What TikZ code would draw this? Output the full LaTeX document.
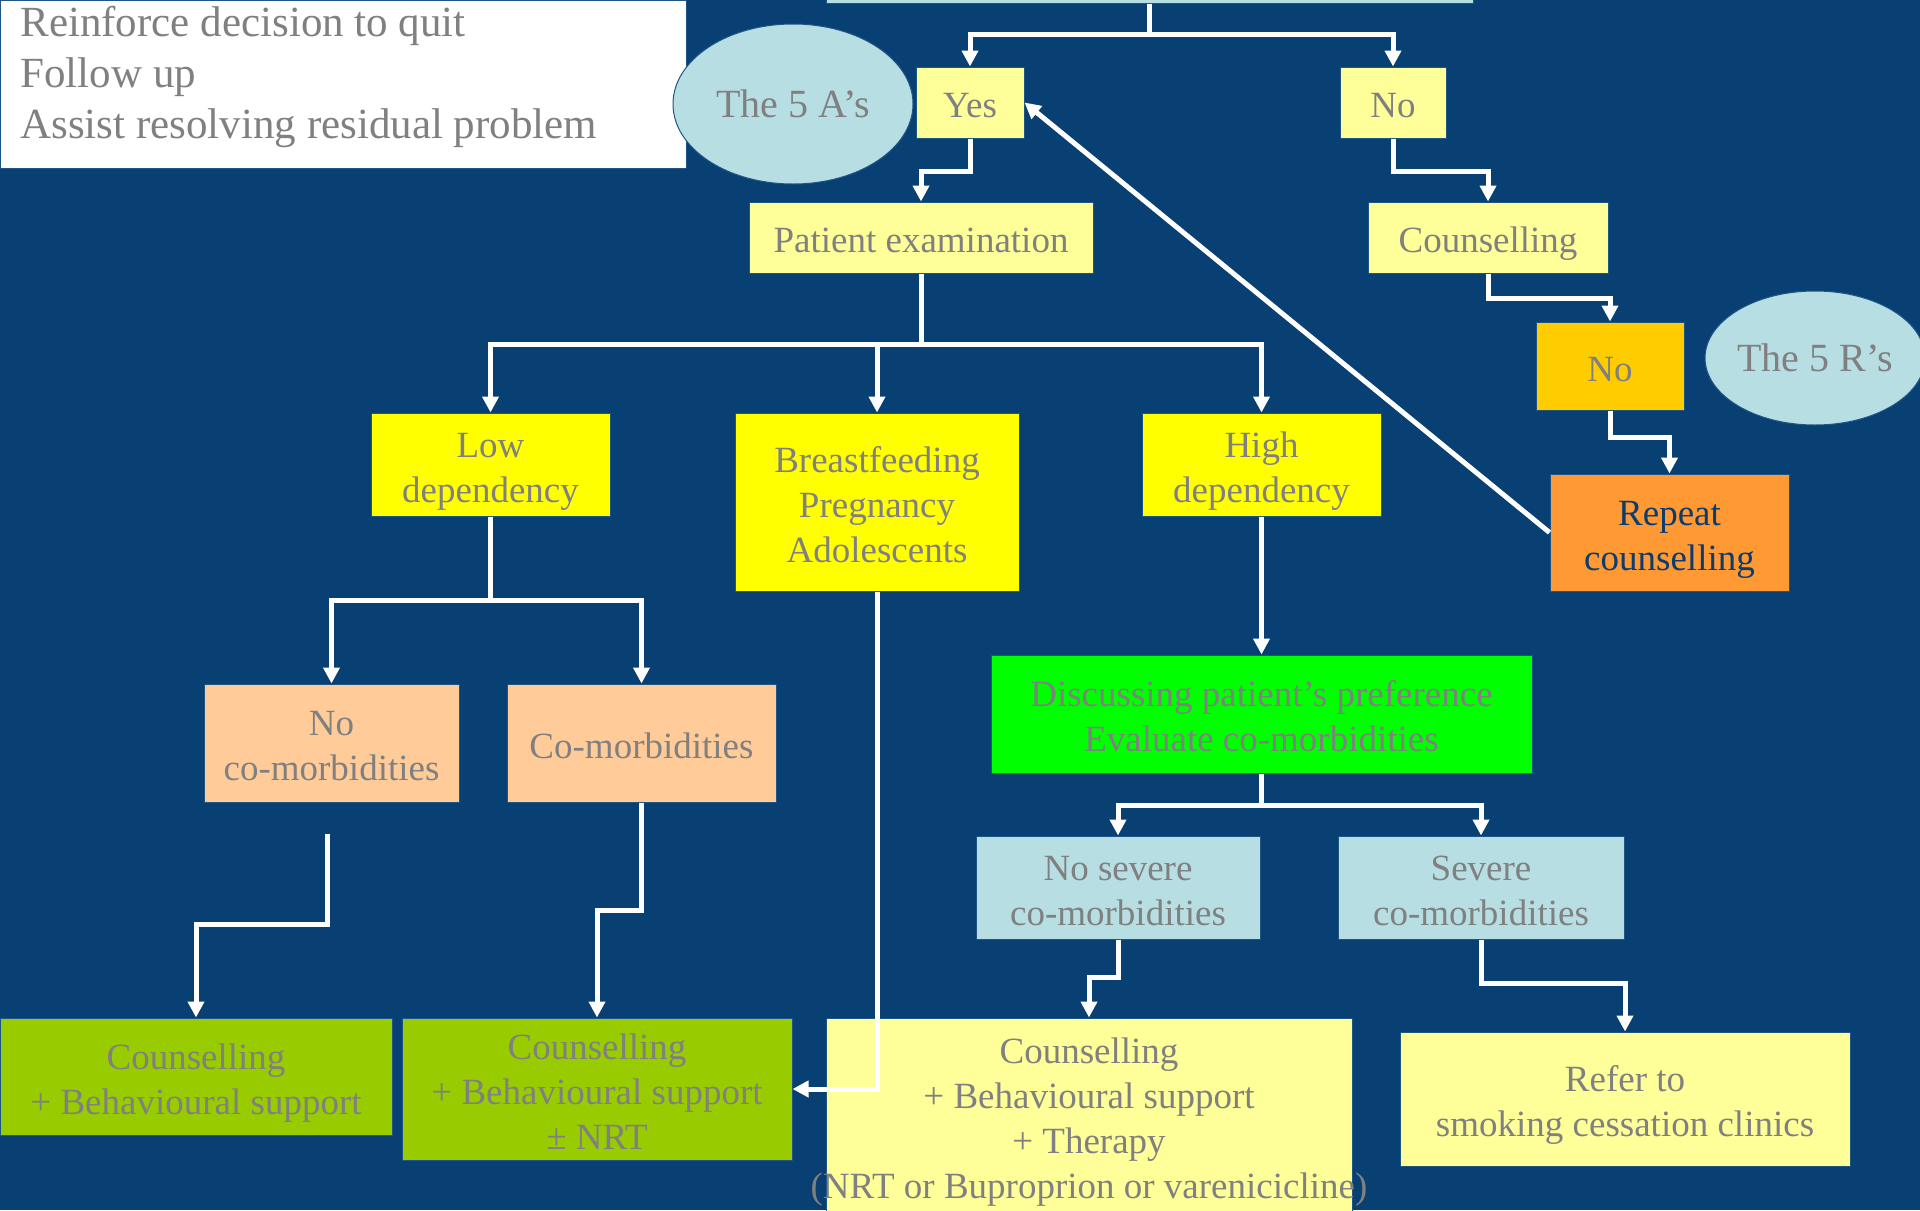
\documentclass[tikz,border=0pt]{standalone}
\usepackage{fontspec}
\setmainfont{Liberation Serif}
\usetikzlibrary{positioning}
\usetikzlibrary{calc}
\usetikzlibrary{arrows.meta}
\usetikzlibrary{shapes.geometric}

\definecolor{bgblue}{RGB}{8,64,116}
\definecolor{edgeblue}{RGB}{30,85,135}
\definecolor{paleyellow}{RGB}{255,255,153}
\definecolor{brightyellow}{RGB}{255,255,0}
\definecolor{peach}{RGB}{255,204,153}
\definecolor{gold}{RGB}{255,204,0}
\definecolor{orangebox}{RGB}{255,153,51}
\definecolor{brightgreen}{RGB}{0,255,0}
\definecolor{paleblue}{RGB}{183,222,226}
\definecolor{olive}{RGB}{153,204,0}
\definecolor{textgray}{RGB}{128,128,128}
\definecolor{darktext}{RGB}{12,60,110}

\newcommand{\linetop}{\rule{0pt}{20pt}}
\newcommand{\linebot}{\rule[-5pt]{0pt}{5pt}}

\begin{document}
\begin{tikzpicture}[x=0.5pt,y=-0.5pt,
  box/.style={draw=edgeblue,line width=0.5pt,inner sep=0pt,align=center,text=textgray,font=\fontsize{18.5}{22.5}\selectfont},
  bubble/.style={box,ellipse,fill=paleblue,font=\fontsize{20}{24}\selectfont},
  link/.style={draw=white,line width=2.5pt},
  >={Triangle[length=8pt,width=8pt]}]

	\useasboundingbox (0,0) rectangle (1920,1210);
	\fill[bgblue] (0,0) rectangle (1920,1210);

	\node[box,fill=paleblue,minimum width=323.5pt,minimum height=33pt] (question) at (1149.5,-30) {};
	\node[box,fill=white,anchor=north west,minimum width=343pt,minimum height=84pt] (notes) at (0,0) {};
	\node[text=textgray,anchor=west,align=left,inner sep=0pt,font=\fontsize{21.5}{25.5}\selectfont] (notetext) at (20,77) {Reinforce decision to quit\\Follow up\\Assist resolving residual problem};
	\node[bubble,minimum width=120pt,minimum height=80pt] (fiveA) at (793,104) {The 5 A's};
	\node[box,fill=paleyellow,minimum width=54pt,minimum height=35.5pt] (yes) at (970,102.5) {\linetop Yes\linebot};
	\node[box,fill=paleyellow,minimum width=53pt,minimum height=35.5pt] (nofirst) at (1393,102.5) {\linetop No\linebot};
	\node[box,fill=paleyellow,minimum width=172pt,minimum height=35.5pt] (exam) at (921,237.5) {\linetop Patient examination\linebot};
	\node[box,fill=paleyellow,minimum width=120pt,minimum height=35.5pt] (counsel) at (1488,237.5) {\linetop Counselling\linebot};
	\node[box,fill=gold,minimum width=74pt,minimum height=44pt] (nosecond) at (1610,366) {\linetop No\linebot};
	\node[bubble,minimum width=104pt,minimum height=67pt] (fiveR) at (1815,358) {The 5 R's};
	\node[box,fill=orangebox,text=darktext,minimum width=119.5pt,minimum height=58.5pt] (repeat) at (1669.5,532.5) {\linetop Repeat\\counselling\linebot};
	\node[box,fill=brightyellow,minimum width=119.5pt,minimum height=51.5pt] (low) at (490.5,464.5) {\linetop Low\\dependency\linebot};
	\node[box,fill=brightyellow,minimum width=142pt,minimum height=89pt] (special) at (877,502) {\linetop Breastfeeding\\Pregnancy\\Adolescents\linebot};
	\node[box,fill=brightyellow,minimum width=119.5pt,minimum height=51.5pt] (high) at (1261.5,464.5) {\linetop High\\dependency\linebot};
	\node[box,fill=peach,minimum width=127.5pt,minimum height=59pt] (nocomorb) at (331.5,743) {\linetop No\\co-morbidities\linebot};
	\node[box,fill=peach,minimum width=134.5pt,minimum height=59pt] (comorb) at (641.5,743) {\linetop Co-morbidities\linebot};
	\node[box,fill=brightgreen,minimum width=270.5pt,minimum height=59pt] (discuss) at (1261.5,714) {\linetop Discussing patient's preference\\Evaluate co-morbidities\linebot};
	\node[box,fill=paleblue,minimum width=142pt,minimum height=51.5pt] (nosevere) at (1118,887.5) {\linetop No severe\\co-morbidities\linebot};
	\node[box,fill=paleblue,minimum width=143pt,minimum height=51.5pt] (severe) at (1481,887.5) {\linetop Severe\\co-morbidities\linebot};
	\node[box,fill=olive,minimum width=196pt,minimum height=58.5pt] (behav) at (196,1076.5) {\linetop Counselling\\+ Behavioural support\linebot};
	\node[box,fill=olive,minimum width=195pt,minimum height=71pt] (behavnrt) at (597,1089) {\linetop Counselling\\+ Behavioural support\\± NRT\linebot};
	\node[box,fill=paleyellow,minimum width=263pt,minimum height=98pt] (therapy) at (1089,1116) {\linetop Counselling\\+ Behavioural support\\+ Therapy\\\makebox[0pt]{(NRT or Buproprion or varenicicline)}\linebot};
	\node[box,fill=paleyellow,minimum width=225pt,minimum height=67pt] (refer) at (1625,1099) {\linetop Refer to\\smoking cessation clinics\linebot};

	\draw[link] (question.south) -- ++(0,31) coordinate (qjoin);
	\draw[link,->] (qjoin) -| (yes.north);
	\draw[link,->] (qjoin) -| (nofirst.north);
	\draw[link,->] (yes.south) -- ++(0,33) -| (exam.north);
	\draw[link,->] (nofirst.south) -- ++(0,33) -| (counsel.north);
	\draw[link,->] (counsel.south) -- ++(0,25) -| (nosecond.north);
	\draw[link,->] (nosecond.south) -- ++(0,27) -| (repeat.north);
	\draw[link,->] (repeat.west) -- (yes.east);
	\draw[link] (exam.south) -- ++(0,71) coordinate (examjoin);
	\draw[link,->] (examjoin) -| (low.north);
	\draw[link,->] (examjoin) -| (special.north);
	\draw[link,->] (examjoin) -| (high.north);
	\draw[link] (low.south) -- ++(0,84) coordinate (lowjoin);
	\draw[link,->] (lowjoin) -| (nocomorb.north);
	\draw[link,->] (lowjoin) -| (comorb.north);
	\coordinate (nocomorbgap) at ($(nocomorb.south)+(-4,31)$);
	\draw[link,->] (nocomorbgap) -- ++(0,91) -| (behav.north);
	\draw[link,->] (comorb.south) -- ++(0,108) -| (behavnrt.north);
	\draw[link,->] (special.south) |- (behavnrt.east);
	\draw[link,->] (high.south) -- (discuss.north);
	\draw[link] (discuss.south) -- ++(0,32) coordinate (discussjoin);
	\draw[link,->] (discussjoin) -| (nosevere.north);
	\draw[link,->] (discussjoin) -| (severe.north);
	\draw[link,->] (nosevere.south) -- ++(0,38) -| (therapy.north);
	\draw[link,->] (severe.south) -- ++(0,44) -| (refer.north);
\end{tikzpicture}
\end{document}
